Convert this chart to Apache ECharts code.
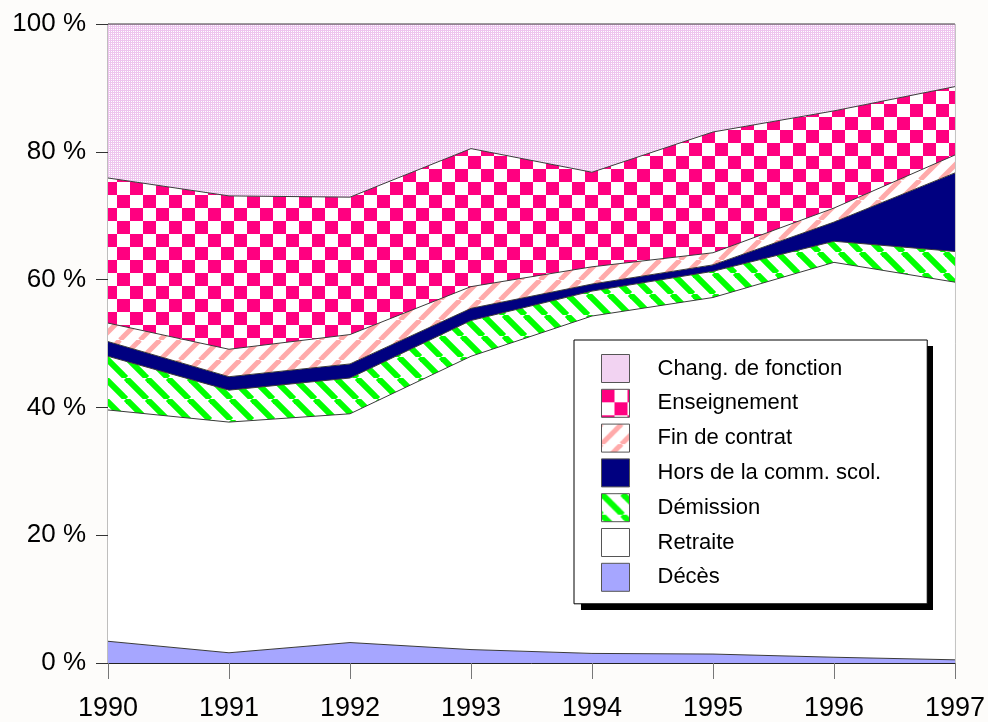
<!DOCTYPE html>
<html>
<head>
<meta charset="utf-8">
<script src="https://cdn.jsdelivr.net/npm/echarts@6/dist/echarts.min.js"></script>
<style>
html,body{margin:0;padding:0;background:#fdfcfa;}
#main{width:988px;height:722px;}
</style>
</head>
<body>
<div id="main"></div>
<script>
// données (en % du total)
var annees = ['1990','1991','1992','1993','1994','1995','1996','1997'];
var deces = [3.4, 1.6, 3.2, 2.1, 1.5, 1.4, 0.9, 0.5];
var retraite = [36.2, 36.1, 35.8, 45.9, 52.8, 55.8, 61.8, 59.1];
var demission = [8.4, 5.0, 5.6, 5.6, 3.9, 4.1, 3.3, 4.8];
var horsComm = [2.3, 2.1, 2.2, 1.9, 1.1, 1.0, 3.0, 12.3];
var finContrat = [2.9, 4.3, 4.6, 3.4, 2.7, 1.9, 2.2, 2.8];
var enseignement = [22.7, 24.0, 21.5, 21.6, 14.8, 18.9, 15.2, 10.7];
var changFonction = [24.1, 26.9, 27.1, 19.5, 23.2, 16.9, 13.6, 9.8];
var yTicks = [0, 20, 40, 60, 80, 100];

// motifs de remplissage
function damier(){
	var c=document.createElement('canvas');
	c.width=26;c.height=26;
	var g=c.getContext('2d');
	g.fillStyle='#fff';g.fillRect(0,0,26,26);
	g.fillStyle='#ff0080';
	g.fillRect(0,0,13,13);
	g.fillRect(13,13,13,13);
	return {image:c,repeat:'repeat'};
}
function hachures(col,p,w,sens){
	var c=document.createElement('canvas');
	c.width=p;c.height=p;
	var g=c.getContext('2d');
	g.fillStyle='#fff';g.fillRect(0,0,p,p);
	g.strokeStyle=col;g.lineWidth=w;
	for(var k=-1;k<=1;k++){
		g.beginPath();
		if(sens=='/'){
			g.moveTo(k*p,p);g.lineTo(k*p+p,0);
		}else{
			g.moveTo(k*p,0);g.lineTo(k*p+p,p);
		}
		g.stroke();
	}
	return {image:c,repeat:'repeat'};
}
function trame(){
	var c=document.createElement('canvas');
	c.width=2;c.height=2;
	var g=c.getContext('2d');
	g.fillStyle='#eec5ee';g.fillRect(0,0,2,2);
	g.fillStyle='#fff';g.fillRect(1,1,1,1);
	return {image:c,repeat:'repeat'};
}

var remplis = {
	'Décès':'#a6a6ff',
	'Retraite':'#ffffff',
	'Démission':hachures('#00ff00',21,6,'\\'),
	'Hors de la comm. scol.':'#000080',
	'Fin de contrat':hachures('#ffaaaa',20,5,'/'),
	'Enseignement':damier(),
	'Chang. de fonction':trame()
};
var ordre = [
	['Décès',deces],
	['Retraite',retraite],
	['Démission',demission],
	['Hors de la comm. scol.',horsComm],
	['Fin de contrat',finContrat],
	['Enseignement',enseignement],
	['Chang. de fonction',changFonction]
];

var series=[];
for(var i=0;i<ordre.length;i++){
	series.push({
		name:ordre[i][0],
		type:'line',
		stack:'total',
		data:ordre[i][1],
		symbol:'none',
		lineStyle:{color:'#3a3a3a',width:1},
		itemStyle:{color:'#3a3a3a'},
		areaStyle:{color:remplis[ordre[i][0]],opacity:1}
	});
}

var legende=[];
for(var i=ordre.length-1;i>=0;i--){
	legende.push({
		name:ordre[i][0],
		icon:'rect',
		itemStyle:{color:remplis[ordre[i][0]],borderColor:'#555',borderWidth:1}
	});
}

var myChart = echarts.init(document.getElementById('main'));
var option = {
	animation:false,
	backgroundColor:'#fdfcfa',
	textStyle:{fontFamily:'Liberation Sans, Arial, sans-serif'},
	grid:{left:108,right:31,top:24,bottom:55,show:true,backgroundColor:'#fff',borderColor:'#808080',borderWidth:1},
	// ombre portée de la légende
	graphic:{
		elements:[{
			type:'rect',
			z:4,
			silent:true,
			shape:{x:581,y:346,width:352,height:264},
			style:{fill:'#000'}
		}]
	},
	legend:{
		data:legende,
		orient:'vertical',
		left:574,
		top:340,
		z:6,
		padding:[14,46,12,27],
		itemWidth:28,
		itemHeight:28,
		itemGap:5.8,
		selectedMode:false,
		backgroundColor:'#fff',
		borderColor:'#000',
		borderWidth:1,
		textStyle:{fontSize:22,lineHeight:24,color:'#000',padding:[0,0,0,23],fontFamily:'Liberation Sans, Arial, sans-serif'}
	},
	xAxis:{
		type:'category',
		data:annees,
		boundaryGap:false,
		axisLine:{lineStyle:{color:'#222',width:1}},
		axisTick:{length:16,lineStyle:{color:'#777'}},
		axisLabel:{interval:0,margin:32,fontSize:27,color:'#000',fontFamily:'Liberation Sans, Arial, sans-serif'},
		splitLine:{show:false}
	},
	yAxis:{
		type:'value',
		min:yTicks[0],
		max:yTicks[yTicks.length-1],
		interval:yTicks[1]-yTicks[0],
		axisLine:{show:true,lineStyle:{color:'#888'}},
		axisTick:{show:true,length:12,lineStyle:{color:'#333'}},
		axisLabel:{formatter:'{value} %',margin:22,fontSize:26,color:'#000',fontFamily:'Liberation Sans, Arial, sans-serif'},
		splitLine:{show:false}
	},
	series:series
};
myChart.setOption(option);
</script>
</body>
</html>
